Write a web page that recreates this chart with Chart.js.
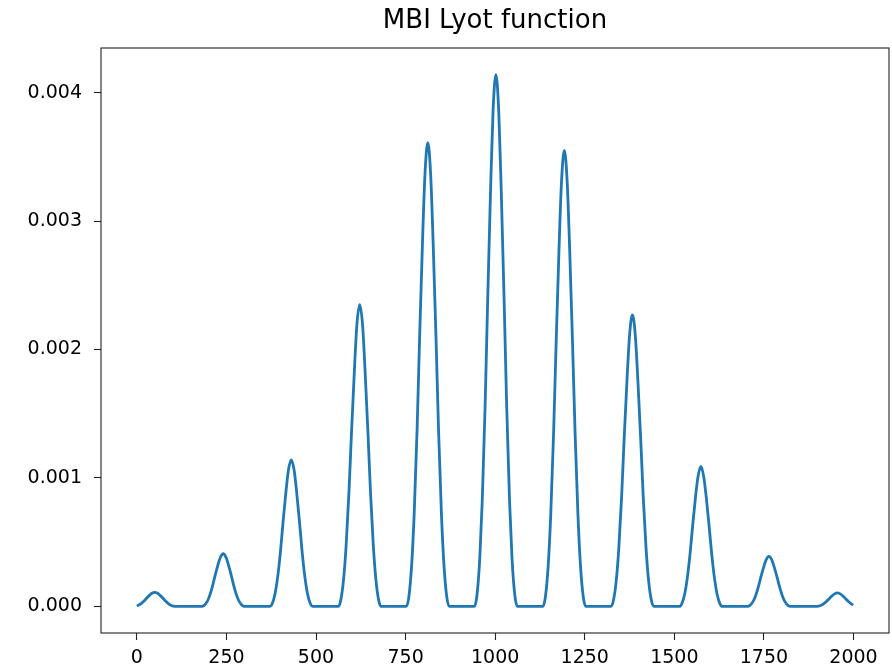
<!DOCTYPE html>
<html>
<head>
<meta charset="utf-8">
<script src="https://cdn.jsdelivr.net/npm/chart.js@4.4.1/dist/chart.umd.min.js"></script>
<style>
  html, body { margin: 0; padding: 0; background: #fff; }
  #wrap { width: 892px; height: 671px; }
</style>
</head>
<body>
<div id="wrap"><canvas id="lyot" width="892" height="671"></canvas></div>
<script>
// sample positions (one line per transmission peak)
const sampleX = [
    0, 5, 12, 20, 27, 35, 42, 50, 58, 65, 73, 80, 88, 95, 103, 110,
    181, 188, 196, 203, 211, 218, 226, 233, 241, 249, 256, 264, 271, 279, 286, 294, 301,
    371, 378, 386, 393, 401, 408, 416, 423, 431, 439, 446, 454, 461, 469, 476, 484, 491,
    562, 569, 577, 584, 592, 599, 607, 614, 622, 630, 637, 645, 652, 660, 667, 675, 682,
    752, 759, 767, 774, 782, 789, 797, 804, 812, 820, 827, 835, 842, 850, 857, 865, 872,
    942, 949, 957, 964, 972, 979, 987, 994, 1002, 1010, 1017, 1025, 1032, 1040, 1047, 1055, 1062,
    1133, 1140, 1148, 1155, 1163, 1170, 1178, 1185, 1193, 1201, 1208, 1216, 1223, 1231, 1238, 1246, 1253,
    1323, 1330, 1338, 1345, 1353, 1360, 1368, 1375, 1383, 1391, 1398, 1406, 1413, 1421, 1428, 1436, 1443,
    1514, 1521, 1529, 1536, 1544, 1551, 1559, 1566, 1574, 1582, 1589, 1597, 1604, 1612, 1619, 1627, 1634,
    1704, 1711, 1719, 1726, 1734, 1741, 1749, 1756, 1764, 1772, 1779, 1787, 1794, 1802, 1809, 1817, 1824,
    1895, 1902, 1910, 1917, 1925, 1932, 1940, 1947, 1955, 1963, 1970, 1978, 1985, 1993, 1999
];

const lyotValues = [
    0.000003, 0.0000099, 0.000022, 0.0000418, 0.0000633, 0.0000858, 0.0001023, 0.00011, 0.0001023, 0.0000858, 0.0000633, 0.0000418, 0.000022, 0.0000099, 0.0000022, 0,
    0, 0.0000082, 0.0000369, 0.000082, 0.000156, 0.000236, 0.00032, 0.000381, 0.00041, 0.000381, 0.00032, 0.000236, 0.000156, 0.000082, 0.0000369, 0.0000082, 0,
    0, 0.0000228, 0.000103, 0.000228, 0.000433, 0.000656, 0.000889, 0.00106, 0.00114, 0.00106, 0.000889, 0.000656, 0.000433, 0.000228, 0.000103, 0.0000228, 0,
    0, 0.000047, 0.000212, 0.00047, 0.000893, 0.00135, 0.00183, 0.00219, 0.00235, 0.00219, 0.00183, 0.00135, 0.000893, 0.00047, 0.000212, 0.000047, 0,
    0, 0.0000722, 0.000325, 0.000722, 0.00137, 0.00208, 0.00282, 0.00336, 0.00361, 0.00336, 0.00282, 0.00208, 0.00137, 0.000722, 0.000325, 0.0000722, 0,
    0, 0.0000828, 0.000373, 0.000828, 0.00157, 0.00238, 0.00323, 0.00385, 0.00414, 0.00385, 0.00323, 0.00238, 0.00157, 0.000828, 0.000373, 0.0000828, 0,
    0, 0.000071, 0.00032, 0.00071, 0.00135, 0.00204, 0.00277, 0.0033, 0.00355, 0.0033, 0.00277, 0.00204, 0.00135, 0.00071, 0.00032, 0.000071, 0,
    0, 0.0000454, 0.000204, 0.000454, 0.000863, 0.00131, 0.00177, 0.00211, 0.00227, 0.00211, 0.00177, 0.00131, 0.000863, 0.000454, 0.000204, 0.0000454, 0,
    0, 0.0000218, 0.0000981, 0.000218, 0.000414, 0.000627, 0.00085, 0.00101, 0.00109, 0.00101, 0.00085, 0.000627, 0.000414, 0.000218, 0.0000981, 0.0000218, 0,
    0, 0.0000078, 0.0000351, 0.000078, 0.000148, 0.000224, 0.000304, 0.000363, 0.00039, 0.000363, 0.000304, 0.000224, 0.000148, 0.000078, 0.0000351, 0.0000078, 0,
    0, 0.0000021, 0.0000095, 0.000021, 0.00004, 0.0000604, 0.0000819, 0.0000977, 0.000105, 0.0000977, 0.0000819, 0.0000604, 0.00004, 0.000021, 0.00001
];

const xTicks = [0, 250, 500, 750, 1000, 1250, 1500, 1750, 2000];
const yTicks = [0, 0.001, 0.002, 0.003, 0.004];

// matplotlib style closed frame around the plot area
const frameBox = {
    id: 'frameBox',
    afterDatasetsDraw(chart) {
        const { ctx, chartArea: a } = chart;
        ctx.save();
        ctx.strokeStyle = '#222';
        ctx.lineWidth = 1.1;
        ctx.strokeRect(a.left, a.top, a.right - a.left, a.bottom - a.top);
        ctx.restore();
    }
};

Chart.defaults.font.family = "'DejaVu Sans', sans-serif";
Chart.defaults.color = '#000';

const ctx = document.getElementById('lyot').getContext('2d');
new Chart(ctx, {
    type: 'line',
    data: {
        datasets: [{
            data: sampleX.map((x, i) => ({ x: x, y: lyotValues[i] })),
            borderColor: '#1f77b4',
            borderWidth: 2.8,
            pointRadius: 0,
            fill: false,
            cubicInterpolationMode: 'monotone'
        }]
    },
    options: {
        responsive: false,
        animation: false,
        devicePixelRatio: 1,
        layout: { padding: { left: 0, right: 3, top: 0, bottom: 0 } },
        plugins: {
            legend: { display: false },
            tooltip: { enabled: false },
            title: {
                display: true,
                fullSize: false, // centre over the plot area, not the canvas
                text: 'MBI Lyot function',
                color: '#000',
                font: { size: 26, weight: 'normal' },
                padding: { top: 6, bottom: 10.8 }
            }
        },
        scales: {
            x: {
                type: 'linear',
                min: -100,
                max: 2099,
                afterBuildTicks: s => { s.ticks = xTicks.map(v => ({ value: v })); },
                afterFit: s => { s.height = 38; },
                grid: { drawOnChartArea: false, drawTicks: true, tickLength: 7, tickColor: '#222', tickWidth: 1.1 },
                border: { display: false },
                ticks: { font: { size: 19 }, padding: 7, maxRotation: 0, callback: v => String(v) }
            },
            y: {
                type: 'linear',
                min: -0.000207,
                max: 0.004347,
                afterBuildTicks: s => { s.ticks = yTicks.map(v => ({ value: v })); },
                afterFit: s => { s.width = 101; },
                grid: { drawOnChartArea: false, drawTicks: true, tickLength: 7, tickColor: '#222', tickWidth: 1.1 },
                border: { display: false },
                ticks: { font: { size: 19 }, padding: 12, callback: v => v.toFixed(3) }
            }
        }
    },
    plugins: [frameBox]
});
</script>
</body>
</html>
